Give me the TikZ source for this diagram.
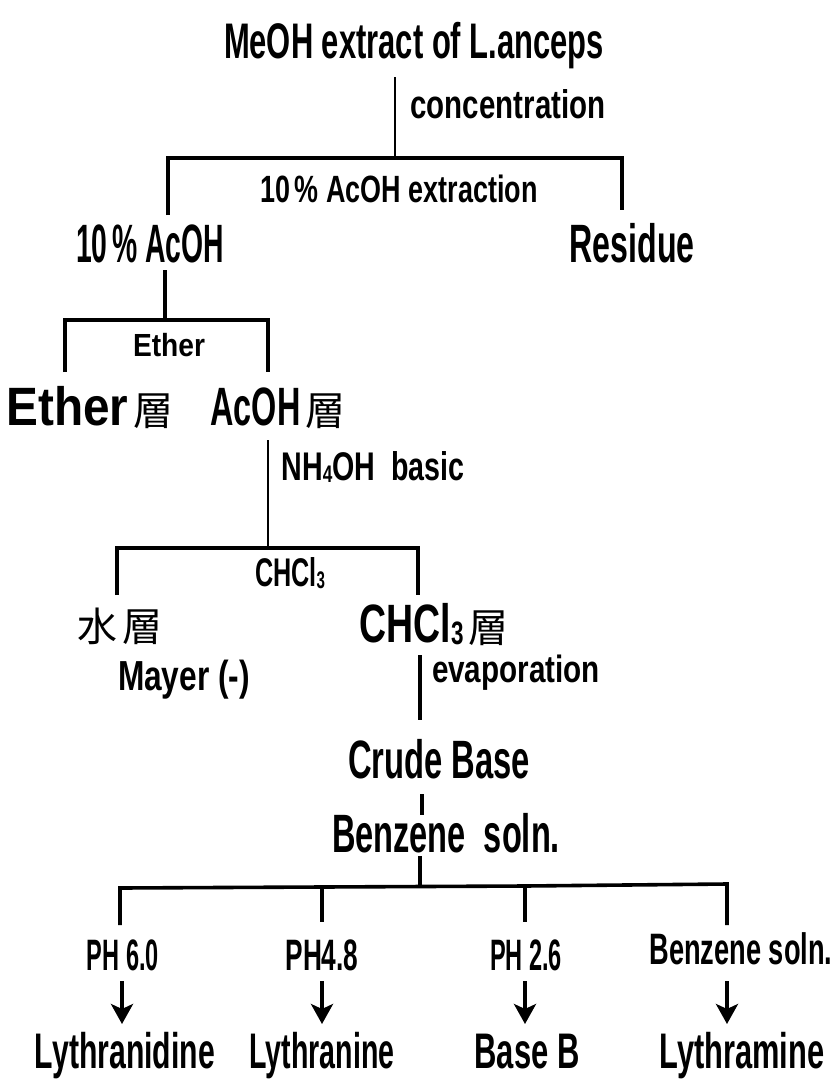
\documentclass[tikz,border=0pt]{standalone}
\usepackage{fontspec}
\setmainfont{Liberation Sans}
\newfontfamily\cjk{Noto Sans CJK JP}
\usepackage{graphicx}
\usetikzlibrary{arrows.meta}
% font size, target width, text
\newcommand\hw[3]{\resizebox{#2pt}{\height}{\fontsize{#1}{#1}\selectfont\bfseries #3}}
\newcommand\sub[1]{\raisebox{-0.05em}{\scalebox{0.6}{#1}}}
\newcommand\sou[1]{{\cjk\fontsize{#1}{#1}\selectfont 層}}
\begin{document}
\begin{tikzpicture}[x=1pt,y=-1pt,
  lbl/.style={inner sep=0pt, anchor=base},
  br/.style={line width=3.6pt, line join=miter},
  th/.style={line width=2.6pt},
  arr/.style={line width=3.8pt, -{Stealth[length=20pt,width=22pt,inset=5pt]}}]
\fill[white] (0,0) rectangle (840,1081);
\useasboundingbox (0,0) rectangle (840,1081);

% nodes
\node[lbl] (title) at (414,59) {\hw{50}{380}{MeOH extract of L.anceps}};
\node[lbl] (conc) at (508,118) {\hw{40}{195}{concentration}};
\node[lbl] (extr) at (399,202) {\hw{38}{277}{10\,\% AcOH extraction}};
\node[lbl] (acoh) at (150,262) {\hw{54}{148}{10\,\% AcOH}};
\node[lbl] (resid) at (632,262) {\hw{54}{125}{Residue}};
\node[lbl] (etherl) at (169,356) {\hw{32}{72}{Ether}};
\node[lbl] (etherlay) at (90,425) {\hw{54}{122}{Ether}\hspace{5pt}\sou{40}};
\node[lbl] (acohlay) at (278,425) {\hw{54}{90}{AcOH}\hspace{5pt}\sou{40}};
\node[lbl] (nh) at (373,480) {\hw{40}{183}{NH\sub{4}OH\ \ basic}};
\node[lbl] (chcl) at (290,586) {\hw{40}{70}{CHCl\sub{3}}};
\node[lbl] (water) at (120,641) {{\cjk\fontsize{40}{40}\selectfont 水\hspace{5pt}層}};
\node[lbl] (chcllay) at (434,642) {\hw{54}{104}{CHCl\sub{3}}\hspace{5pt}\sou{40}};
\node[lbl] (mayer) at (184,690) {\hw{42}{132}{Mayer (-)}};
\node[lbl] (evap) at (516,682) {\hw{38}{168}{evaporation}};
\node[lbl] (crude) at (439,778) {\hw{54}{182}{Crude Base}};
\node[lbl] (benz) at (446,852) {\hw{54}{228}{Benzene\ \ soln.}};
\node[lbl] (ph6) at (123,970) {\hw{44}{72}{PH 6.0}};
\node[lbl] (ph4) at (322,970) {\hw{44}{73}{PH4.8}};
\node[lbl] (ph2) at (526,970) {\hw{44}{72}{PH 2.6}};
\node[lbl] (benz2) at (741,964) {\hw{44}{183}{Benzene soln.}};
\node[lbl] (lyd) at (125,1068) {\hw{50}{180}{Lythranidine}};
\node[lbl] (lyn) at (322,1068) {\hw{50}{145}{Lythranine}};
\node[lbl] (bb) at (527,1068) {\hw{50}{105}{Base B}};
\node[lbl] (lym) at (742,1068) {\hw{50}{165}{Lythramine}};

% junction coordinates
\coordinate (c0) at (395,77);
\coordinate (c1) at (395,158);
\coordinate (b1l) at (168,158); \coordinate (b1le) at (168,215);
\coordinate (b1r) at (622,158); \coordinate (b1re) at (622,210);
\coordinate (a0) at (165,270); \coordinate (a1) at (165,320);
\coordinate (b2l) at (65,320); \coordinate (b2le) at (65,372);
\coordinate (b2r) at (268,320); \coordinate (b2re) at (268,372);
\coordinate (n0) at (268,440); \coordinate (n1) at (268,548);
\coordinate (b3l) at (117,548); \coordinate (b3le) at (117,595);
\coordinate (b3r) at (418,548); \coordinate (b3re) at (418,595);
\coordinate (e0) at (420,655); \coordinate (e1) at (420,720);
\coordinate (k0) at (422,794); \coordinate (k1) at (422,815);
\coordinate (z0) at (420,856); \coordinate (z1) at (420,887);
\coordinate (b4a) at (120,888); \coordinate (b4ae) at (120,925);
\coordinate (b4b) at (322,887); \coordinate (b4be) at (322,922);
\coordinate (b4c) at (525,886); \coordinate (b4ce) at (525,922);
\coordinate (b4d) at (727,884); \coordinate (b4de) at (727,925);
\coordinate (p1) at (122,981); \coordinate (q1) at (122,1024);
\coordinate (p2) at (322,981); \coordinate (q2) at (322,1024);
\coordinate (p3) at (525,981); \coordinate (q3) at (525,1024);
\coordinate (p4) at (727,981); \coordinate (q4) at (727,1024);

% connectors
\draw[th] (c0) -- (c1);
\draw[br] (b1le) -- (b1l) -- (b1r) -- (b1re);
\draw[br] (a0) -- (a1);
\draw[br] (b2le) -- (b2l) -- (b2r) -- (b2re);
\draw[th] (n0) -- (n1);
\draw[br] (b3le) -- (b3l) -- (b3r) -- (b3re);
\draw[br] (e0) -- (e1);
\draw[br] (k0) -- (k1);
\draw[br] (z0) -- (z1);
\draw[br] (b4ae) -- (b4a) -- (b4b) -- (b4c) -- (b4d) -- (b4de);
\draw[br] (b4b) -- (b4be);
\draw[br] (b4c) -- (b4ce);
\draw[arr] (p1) -- (q1);
\draw[arr] (p2) -- (q2);
\draw[arr] (p3) -- (q3);
\draw[arr] (p4) -- (q4);
\end{tikzpicture}
\end{document}
